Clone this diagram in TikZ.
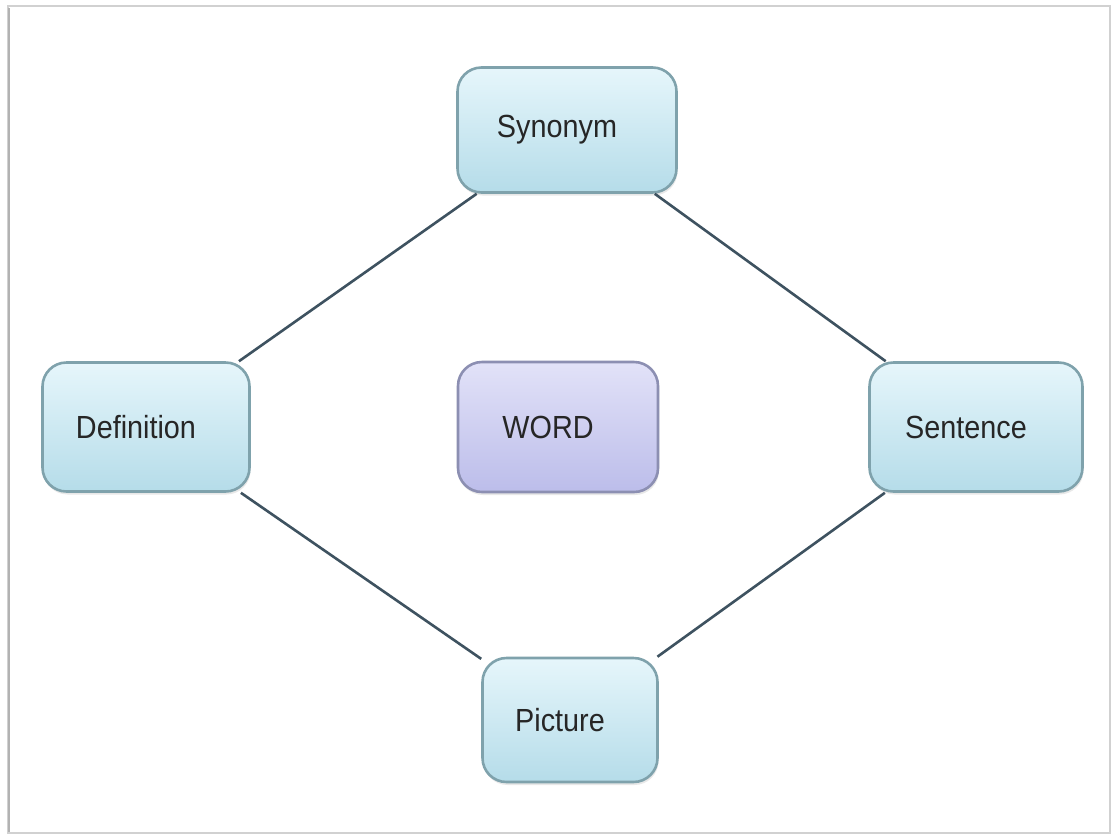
\documentclass[tikz,border=0pt]{standalone}
\usepackage{fontspec}
\setmainfont{Liberation Sans}
\newfontfamily\boxfont[FakeStretch=0.9]{Liberation Sans}
\usetikzlibrary{shadows}
\definecolor{edgecol}{HTML}{3E5260}
\definecolor{bluetop}{HTML}{E6F6FB}
\definecolor{bluebot}{HTML}{B5DCE9}
\definecolor{blueline}{HTML}{7FA2AC}
\definecolor{lilactop}{HTML}{E2E2F8}
\definecolor{lilacbot}{HTML}{BCBDEA}
\definecolor{lilacline}{HTML}{8C8FB2}
\newcommand{\boxtext}[1]{#1\hspace*{20pt}}
\tikzset{
  box/.style={rounded corners=24pt, line width=2.6pt, draw=blueline,
    top color=bluetop, bottom color=bluebot,
    drop shadow={opacity=0.18, shadow xshift=1pt, shadow yshift=-3pt},
    font=\boxfont\fontsize{32}{35}\selectfont, text=black!85, inner sep=0pt},
  centerbox/.style={box, draw=lilacline, top color=lilactop, bottom color=lilacbot},
  link/.style={draw=edgecol, line width=2.6pt}
}
\begin{document}
\begin{tikzpicture}[x=1pt, y=-1pt]
  \useasboundingbox (0,0) rectangle (1115,836);
  % page frame
  \fill[white] (8,6) rectangle (1110,833);
  \draw[black!18, line width=1.5pt] (8,6) rectangle (1110,833);
  \draw[black!30, line width=2pt] (9,8) -- (9,832);

  % boxes
  \node[box, minimum width=219pt, minimum height=125pt] (syn) at (567,130) {\boxtext{Synonym}};
  \node[box, minimum width=207pt, minimum height=129pt] (def) at (146,427) {\boxtext{Definition}};
  \node[box, minimum width=213pt, minimum height=129pt] (sen) at (976,427) {\boxtext{Sentence}};
  \node[box, minimum width=175pt, minimum height=124pt] (pic) at (570,720) {\boxtext{Picture}};
  \node[centerbox, minimum width=200pt, minimum height=130pt] (word) at (558,427) {\boxtext{WORD}};

  % connectors
  \draw[link] (syn) -- (def);
  \draw[link] (syn) -- (sen);
  \draw[link] (def) -- (pic);
  \draw[link] (sen) -- (pic);
\end{tikzpicture}
\end{document}
